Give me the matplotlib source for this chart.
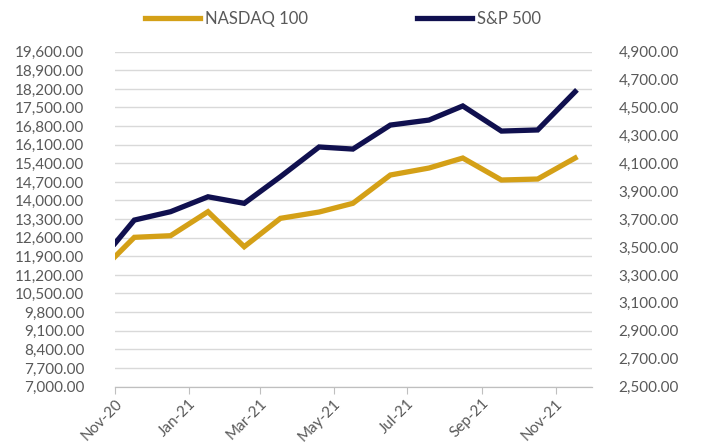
import matplotlib.pyplot as plt
import matplotlib.dates as mdates
from matplotlib.ticker import FuncFormatter
import pandas as pd

# data
dates = ["2020-11-01", "2020-11-17", "2020-12-17", "2021-01-17", "2021-02-16",
         "2021-03-18", "2021-04-19", "2021-05-17", "2021-06-17", "2021-07-19",
         "2021-08-16", "2021-09-17", "2021-10-17", "2021-11-17"]
nasdaq = [11885, 12614, 12675, 13578, 12261, 13329, 13566, 13894,
          14959, 15222, 15598, 14771, 14808, 15598]
sp500 = [3526, 3693, 3753, 3860, 3813, 4004, 4217, 4202,
         4374, 4410, 4511, 4331, 4339, 4613]
x = pd.to_datetime(dates)

plt.rcParams['font.family'] = ['Lato', 'DejaVu Sans']
txt = '#595959'

fig = plt.figure(figsize=(7.07, 4.44), dpi=100)
ax = fig.add_axes([115/707, 57.5/444, 477/707, 334.8/444])
ax2 = ax.twinx()

l1, = ax.plot(x, nasdaq, color='#d4a017', lw=3.8, label='NASDAQ 100', solid_joinstyle='miter')
l2, = ax2.plot(x, sp500, color='#10104f', lw=3.8, label='S&P 500', solid_joinstyle='miter')

fmt = FuncFormatter(lambda v, p: "{:,.2f}".format(v))
ax.set_ylim(7000, 19600)
ax.set_yticks(range(7000, 19601, 700))
ax.yaxis.set_major_formatter(fmt)
ax2.set_ylim(2500, 4900)
ax2.set_yticks(range(2500, 4901, 200))
ax2.yaxis.set_major_formatter(fmt)

ax.set_xlim(pd.Timestamp("2020-11-01"), pd.Timestamp("2021-12-01"))
ax.xaxis.set_major_locator(mdates.MonthLocator(bymonth=[1, 3, 5, 7, 9, 11]))
ax.xaxis.set_major_formatter(mdates.DateFormatter('%b-%y'))
plt.setp(ax.get_xticklabels(), rotation=45, ha='right', rotation_mode='anchor')

ax.grid(axis='y', color='#d9d9d9', lw=1)
ax.set_axisbelow(True)
for a in (ax, ax2):
    for s in ('top', 'left', 'right'):
        a.spines[s].set_visible(False)
    a.spines['bottom'].set_color('#bfbfbf')
    a.tick_params(axis='y', length=0, labelsize=11, labelcolor=txt)
ax.tick_params(axis='y', pad=22)
ax2.tick_params(axis='y', pad=19)
ax.tick_params(axis='x', length=5, color='#bfbfbf', labelsize=11, labelcolor=txt, pad=2)

fig.legend(handles=[l1, l2], loc='upper center', bbox_to_anchor=(0.485, 1.01), ncol=2,
           frameon=False, fontsize=12, labelcolor=txt, handlelength=3.3,
           handletextpad=0.3, columnspacing=6.5)

fig.savefig('out.png', dpi=100)
